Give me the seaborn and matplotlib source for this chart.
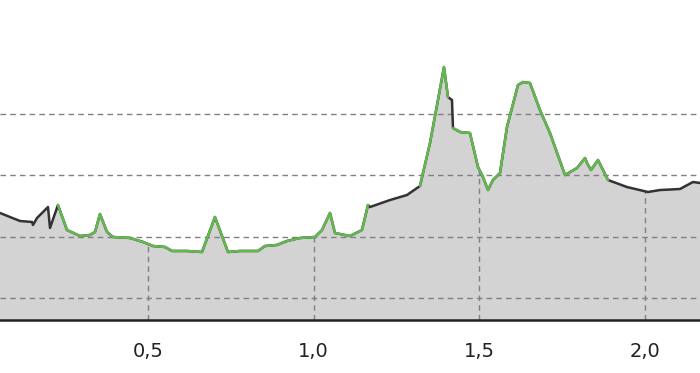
import numpy as np
import pandas as pd
import matplotlib
matplotlib.use("Agg")
import matplotlib.pyplot as plt
import seaborn as sns

# distance (km) and elevation (m)
distance = [0.0533, 0.0835, 0.1136, 0.1499, 0.1529, 0.1650, 0.1982, 0.2042, 0.2283,
            0.2555, 0.2947, 0.3249, 0.3400, 0.3551, 0.3762, 0.3944, 0.4457, 0.4849,
            0.5151, 0.5513, 0.5724, 0.6177, 0.6630, 0.7022, 0.7415, 0.7777, 0.8320,
            0.8532, 0.8894, 0.9196, 0.9588, 1.0041, 1.0252, 1.0494, 1.0644, 1.1097,
            1.1459, 1.1641, 1.1701, 1.2305, 1.2818, 1.3210, 1.3512, 1.3753, 1.3934,
            1.4055, 1.4176, 1.4206, 1.4417, 1.4719, 1.4960, 1.5111, 1.5262, 1.5413,
            1.5625, 1.5836, 1.6168, 1.6319, 1.6530, 1.6832, 1.7134, 1.7587, 1.7949,
            1.8191, 1.8251, 1.8372, 1.8583, 1.8885, 1.9458, 2.0092, 2.0454, 2.1058,
            2.1450, 2.1662]
elevation = [338.7, 332.1, 325.6, 324.0, 319.1, 330.5, 348.4, 314.2, 351.7,
             310.9, 301.1, 302.8, 307.7, 337.0, 307.7, 299.5, 297.9, 291.4,
             284.8, 283.2, 276.7, 276.7, 275.0, 332.1, 275.0, 276.7, 276.7,
             284.8, 286.5, 293.0, 297.9, 299.5, 310.9, 338.7, 306.0, 301.1,
             310.9, 351.7, 348.4, 359.8, 368.0, 382.7, 452.8, 523.0, 576.8,
             527.8, 522.9, 477.3, 470.8, 469.1, 413.7, 397.4, 376.1, 392.5,
             403.9, 478.9, 547.4, 552.3, 550.7, 506.6, 469.1, 400.6, 412.0,
             428.3, 420.2, 408.8, 425.1, 392.5, 381.0, 372.9, 376.1, 377.8,
             389.2, 387.6]
# highlighted (green) stretches: start / end distance
green_start = [0.2283, 1.3210, 1.4206]
green_end = [1.1641, 1.4055, 1.8885]

x_ticks = [0.5, 1.0, 1.5, 2.0]
x_tick_labels = ["0,5", "1,0", "1,5", "2,0"]
y_grid = [200, 300, 400, 500]

df = pd.DataFrame({"distance": distance, "elevation": elevation})
seg = np.full(len(df), -1)
for i, (s, e) in enumerate(zip(green_start, green_end)):
    m = (df["distance"] >= s - 1e-9) & (df["distance"] <= e + 1e-9)
    seg[m.values] = i
df["seg"] = seg
green_df = df[df["seg"] >= 0]

sns.set_style("white")
fig = plt.figure(figsize=(7.0, 3.73), dpi=100)
ax = fig.add_axes([0.0, 53 / 373, 1.0, 320 / 373])

ymin, ymax = 164.1, 686.1
ax.fill_between(df["distance"], ymin, df["elevation"], color="#d3d3d3", lw=0, zorder=1)

for yv in y_grid:
    ax.axhline(yv, color="#808080", lw=1.0, ls=(0, (4, 3)), zorder=2)
for xv in x_ticks:
    top = np.interp(xv, df["distance"], df["elevation"])
    ax.vlines(xv, ymin, top, color="#808080", lw=1.0, ls=(0, (4, 3)), zorder=2)

sns.lineplot(data=df, x="distance", y="elevation", color="#333333", lw=1.8,
             estimator=None, sort=False, ax=ax, zorder=3)
sns.lineplot(data=green_df, x="distance", y="elevation", units="seg", color="#63b84f",
             lw=1.8, estimator=None, sort=False, ax=ax, zorder=4)

ax.set_xlim(0.0533, 2.1662)
ax.set_ylim(ymin, ymax)
ax.set_xticks(x_ticks)
ax.set_xticklabels(x_tick_labels, fontsize=14, color="#222222")
ax.set_yticks([])
ax.tick_params(axis="x", length=0, pad=16)
ax.set_xlabel("")
ax.set_ylabel("")
for side in ["top", "left", "right"]:
    ax.spines[side].set_visible(False)
ax.spines["bottom"].set_color("#222222")
ax.spines["bottom"].set_linewidth(1.8)
ax.spines["bottom"].set_zorder(5)

fig.savefig("out.png", dpi=100)
